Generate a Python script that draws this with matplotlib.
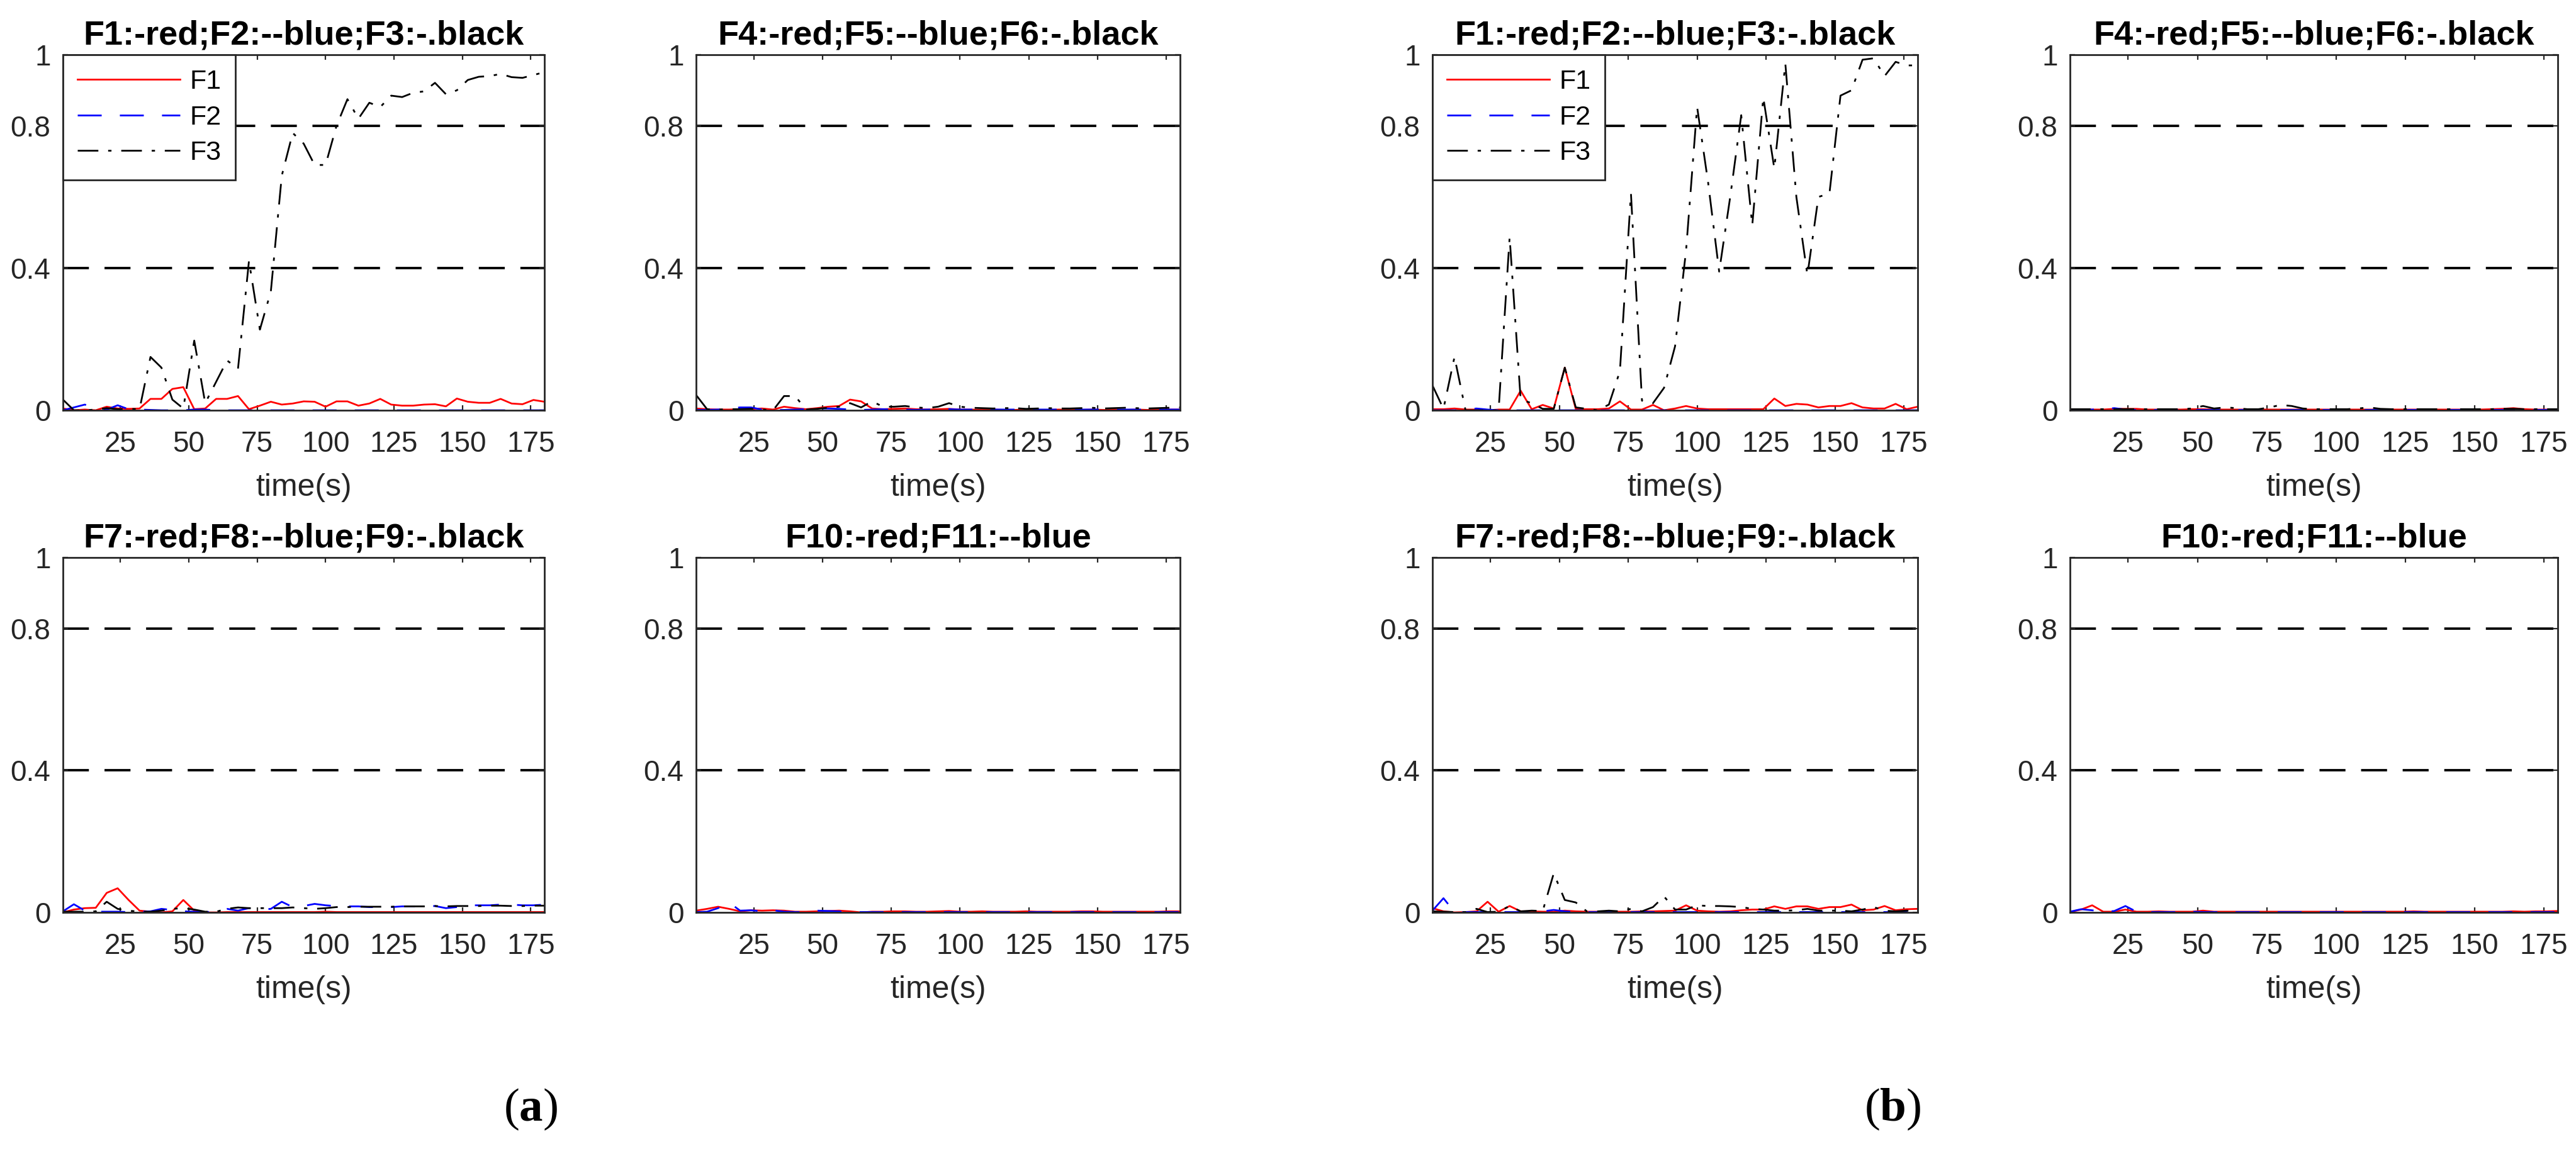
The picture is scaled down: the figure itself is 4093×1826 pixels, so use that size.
import matplotlib
matplotlib.use("Agg")
import matplotlib.pyplot as plt
import numpy as np

plt.rcParams['font.family'] = ['Liberation Sans', 'DejaVu Sans']
plt.rcParams['mathtext.fontset'] = 'custom'
plt.rcParams['mathtext.rm'] = 'Liberation Serif'
plt.rcParams['mathtext.bf'] = 'Liberation Serif:bold'

# sampling instants (s)
t = np.arange(4, 181, 4)

# ---- group (a) ----
a_F1 = [0.005, 0, 0.002, 0, 0.01, 0.005, 0.004, 0.005, 0.032, 0.032,
        0.06, 0.065, 0.003, 0.005, 0.032, 0.032, 0.04, 0.003, 0.013, 0.024,
        0.016, 0.019, 0.025, 0.024, 0.01, 0.025, 0.025, 0.013, 0.019, 0.032,
        0.016, 0.013, 0.013, 0.016, 0.017, 0.011, 0.033, 0.024, 0.021, 0.021,
        0.032, 0.019, 0.017, 0.029, 0.024]
a_F2 = [0, 0.008, 0.016, 0.004, 0.002, 0.014, 0.003, 0.002, 0.001, 0,
        0, 0, 0.002, 0.002, 0, 0, 0, 0, 0, 0,
        0, 0, 0, 0, 0, 0, 0, 0, 0, 0,
        0, 0, 0, 0, 0, 0, 0, 0, 0, 0,
        0, 0, 0, 0, 0]
a_F3 = [0.03, 0.0, 0.0, 0.002, 0.006, 0.003, 0.004, 0.003, 0.15, 0.12,
        0.03, 0.005, 0.196, 0.02, 0.08, 0.14, 0.117, 0.42, 0.227, 0.334,
        0.66, 0.78, 0.75, 0.69, 0.69, 0.8, 0.875, 0.82, 0.865, 0.853,
        0.885, 0.881, 0.893, 0.897, 0.921, 0.889, 0.9, 0.929, 0.938, 0.94,
        0.946, 0.937, 0.935, 0.943, 0.951]
a_F4 = [0.005, 0.003, 0.002, 0.002, 0.003, 0.004, 0.005, 0.002, 0.01, 0.006,
        0.003, 0.006, 0.01, 0.012, 0.03, 0.025, 0.005, 0.003, 0.004, 0.005,
        0.003, 0.002, 0.003, 0.004, 0.002, 0.002, 0.001, 0.002, 0.001, 0.001,
        0.002, 0.001, 0.001, 0.002, 0.001, 0.001, 0.002, 0.001, 0.001, 0.001,
        0.002, 0.001, 0.001, 0.002, 0.002]
a_F5 = [0.001, 0.001, 0.002, 0.005, 0.008, 0.008, 0.002, 0.001, 0.001, 0.002,
        0.003, 0.005, 0.005, 0.004, 0.002, 0.001, 0.002, 0.003, 0.002, 0.002,
        0.001, 0.002, 0.002, 0.003, 0.002, 0.002, 0.002, 0.002, 0.002, 0.002,
        0.002, 0.002, 0.002, 0.002, 0.002, 0.002, 0.002, 0.002, 0.002, 0.002,
        0.002, 0.002, 0.002, 0.002, 0.002]
a_F6 = [0.043, 0.003, 0.002, 0.003, 0.003, 0.004, 0.002, 0.0, 0.04, 0.04,
        0.002, 0.004, 0.007, 0.01, 0.02, 0.008, 0.025, 0.01, 0.01, 0.012,
        0.008, 0.006, 0.01, 0.02, 0.01, 0.007, 0.006, 0.005, 0.006, 0.006,
        0.004, 0.005, 0.006, 0.005, 0.005, 0.006, 0.007, 0.005, 0.006, 0.007,
        0.006, 0.005, 0.006, 0.007, 0.008]
a_F7 = [0, 0.008, 0.012, 0.013, 0.055, 0.068, 0.035, 0.005, 0.002, 0.0,
        0.003, 0.035, 0.005, 0.0, 0.0, 0.001, 0.001, 0.001, 0.001, 0.001,
        0.001, 0.001, 0.001, 0.001, 0.002, 0.001, 0.001, 0.001, 0.001, 0.001,
        0.001, 0.001, 0.001, 0.001, 0.001, 0.001, 0.001, 0.001, 0.001, 0.001,
        0.001, 0.001, 0.001, 0.001, 0.001]
a_F8 = [0.003, 0.023, 0.005, 0.002, 0.002, 0.002, 0.001, 0.002, 0.003, 0.01,
        0.007, 0.003, 0.002, 0.0, 0.005, 0.01, 0.005, 0.012, 0.008, 0.01,
        0.03, 0.015, 0.018, 0.024, 0.02, 0.018, 0.017, 0.017, 0.015, 0.015,
        0.015, 0.017, 0.017, 0.017, 0.018, 0.012, 0.015, 0.02, 0.02, 0.02,
        0.022, 0.022, 0.02, 0.02, 0.022]
a_F9 = [0.002, 0.002, 0.002, 0.003, 0.03, 0.01, 0.005, 0.002, 0.002, 0.005,
        0.01, 0.012, 0.008, 0.002, 0.002, 0.01, 0.014, 0.012, 0.012, 0.012,
        0.012, 0.014, 0.012, 0.01, 0.012, 0.015, 0.015, 0.016, 0.016, 0.016,
        0.016, 0.017, 0.017, 0.017, 0.018, 0.017, 0.018, 0.018, 0.018, 0.019,
        0.019, 0.018, 0.018, 0.019, 0.019]
a_F10 = [0.005, 0.01, 0.016, 0.01, 0.003, 0.006, 0.005, 0.006, 0.005, 0.002,
         0.002, 0.003, 0.004, 0.005, 0.003, 0.0, 0.002, 0.002, 0.003, 0.003,
         0.002, 0.002, 0.003, 0.004, 0.002, 0.002, 0.003, 0.002, 0.002, 0.002,
         0.003, 0.002, 0.002, 0.002, 0.002, 0.003, 0.003, 0.002, 0.002, 0.002,
         0.002, 0.002, 0.002, 0.003, 0.003]
a_F11 = [0.001, 0.002, 0.012, 0.028, 0.005, 0.006, 0.003, 0.006, 0.002, 0.001,
         0.001, 0.005, 0.004, 0.003, 0.001, 0.001, 0.001, 0.001, 0.001, 0.001,
         0.001, 0.001, 0.001, 0.001, 0.001, 0.001, 0.001, 0.001, 0.001, 0.001,
         0.001, 0.001, 0.001, 0.001, 0.001, 0.001, 0.001, 0.001, 0.001, 0.001,
         0.001, 0.001, 0.001, 0.001, 0.001]

# ---- group (b) ----
b_F1 = [0.003, 0.003, 0.005, 0.002, 0.002, 0, 0.002, 0.002, 0.055, 0.003,
        0.015, 0.005, 0.12, 0.003, 0.003, 0.003, 0.005, 0.025, 0.002, 0.002,
        0.015, 0.0, 0.005, 0.012, 0.005, 0.003, 0.003, 0.003, 0.003, 0.003,
        0.003, 0.033, 0.012, 0.018, 0.016, 0.008, 0.012, 0.012, 0.02, 0.008,
        0.005, 0.005, 0.018, 0.003, 0.01]
b_F2 = [0, 0, 0, 0.002, 0.005, 0.002, 0, 0, 0, 0,
        0, 0, 0, 0, 0, 0, 0, 0, 0, 0,
        0, 0, 0, 0, 0, 0, 0, 0, 0, 0,
        0, 0, 0, 0, 0, 0, 0, 0, 0, 0,
        0, 0, 0, 0, 0]
b_F3 = [0.07, 0.004, 0.15, 0.0, 0.0, 0.0, 0.0, 0.487, 0.03, 0.02,
        0.004, 0.004, 0.12, 0.008, 0.004, 0.0, 0.016, 0.11, 0.61, 0.027,
        0.02, 0.063, 0.18, 0.45, 0.853, 0.64, 0.39, 0.6, 0.83, 0.52,
        0.88, 0.68, 0.975, 0.6, 0.38, 0.6, 0.61, 0.885, 0.9, 0.986,
        0.99, 0.94, 0.98, 0.97, 0.97]
b_F4 = [0.002, 0.002, 0.002, 0.002, 0.004, 0.004, 0.004, 0.002, 0.002, 0.002,
        0.002, 0.003, 0.003, 0.002, 0.002, 0.002, 0.002, 0.002, 0.002, 0.002,
        0.002, 0.002, 0.002, 0.002, 0.002, 0.002, 0.002, 0.002, 0.002, 0.002,
        0.002, 0.002, 0.002, 0.002, 0.002, 0.002, 0.002, 0.002, 0.003, 0.004,
        0.006, 0.003, 0.002, 0.002, 0.002]
b_F5 = [0.001, 0.001, 0.002, 0.003, 0.006, 0.002, 0.001, 0.001, 0.001, 0.001,
        0.001, 0.001, 0.001, 0.001, 0.001, 0.001, 0.001, 0.001, 0.001, 0.001,
        0.001, 0.001, 0.001, 0.001, 0.001, 0.001, 0.001, 0.001, 0.001, 0.001,
        0.001, 0.001, 0.001, 0.001, 0.001, 0.001, 0.001, 0.001, 0.001, 0.001,
        0.001, 0.001, 0.001, 0.001, 0.001]
b_F6 = [0.003, 0.003, 0.003, 0.003, 0.003, 0.003, 0.003, 0.003, 0.003, 0.003,
        0.003, 0.005, 0.012, 0.005, 0.008, 0.006, 0.003, 0.003, 0.008, 0.015,
        0.012, 0.005, 0.003, 0.003, 0.003, 0.003, 0.005, 0.008, 0.004, 0.003,
        0.003, 0.003, 0.003, 0.003, 0.003, 0.003, 0.003, 0.003, 0.003, 0.004,
        0.004, 0.003, 0.003, 0.003, 0.003]
b_F7 = [0.012, 0.003, 0.0, 0.001, 0.003, 0.03, 0.002, 0.018, 0.003, 0.003,
        0.002, 0.002, 0.005, 0.003, 0.002, 0.002, 0.002, 0.002, 0.002, 0.003,
        0.003, 0.004, 0.005, 0.02, 0.005, 0.003, 0.002, 0.003, 0.006, 0.008,
        0.008, 0.017, 0.01, 0.017, 0.017, 0.01, 0.015, 0.015, 0.022, 0.006,
        0.008, 0.018, 0.006, 0.009, 0.01]
b_F8 = [0.005, 0.04, 0.001, 0.001, 0.001, 0.001, 0.001, 0.001, 0.001, 0.002,
        0.003, 0.007, 0.003, 0.001, 0.001, 0.001, 0.001, 0.001, 0.001, 0.001,
        0.001, 0.001, 0.001, 0.001, 0.001, 0.001, 0.001, 0.001, 0.001, 0.001,
        0.001, 0.001, 0.001, 0.001, 0.001, 0.001, 0.001, 0.001, 0.001, 0.001,
        0.001, 0.001, 0.001, 0.001, 0.001]
b_F9 = [0.003, 0.002, 0.001, 0.001, 0.01, 0.001, 0.002, 0.018, 0.003, 0.005,
        0.004, 0.11, 0.035, 0.028, 0.003, 0.003, 0.005, 0.003, 0.01, 0.003,
        0.015, 0.045, 0.008, 0.008, 0.02, 0.018, 0.018, 0.017, 0.015, 0.01,
        0.008, 0.005, 0.005, 0.006, 0.01, 0.005, 0.005, 0.005, 0.003, 0.008,
        0.015, 0.005, 0.003, 0.005, 0.003]
b_F10 = [0.001, 0.008, 0.02, 0.002, 0.002, 0.008, 0.002, 0.002, 0.003, 0.002,
         0.002, 0.002, 0.005, 0.002, 0.002, 0.002, 0.002, 0.002, 0.002, 0.002,
         0.002, 0.002, 0.002, 0.002, 0.002, 0.002, 0.002, 0.002, 0.002, 0.002,
         0.002, 0.003, 0.002, 0.002, 0.002, 0.002, 0.002, 0.002, 0.002, 0.002,
         0.003, 0.002, 0.003, 0.003, 0.004]
b_F11 = [0.002, 0.009, 0.006, 0.001, 0.004, 0.018, 0.002, 0.001, 0.001, 0.001,
         0.001, 0.002, 0.001, 0.001, 0.001, 0.001, 0.001, 0.001, 0.001, 0.001,
         0.001, 0.001, 0.001, 0.001, 0.001, 0.001, 0.001, 0.001, 0.001, 0.001,
         0.001, 0.001, 0.001, 0.001, 0.001, 0.001, 0.001, 0.001, 0.001, 0.001,
         0.001, 0.001, 0.001, 0.001, 0.001]

titles = ["F1:-red;F2:--blue;F3:-.black", "F4:-red;F5:--blue;F6:-.black",
          "F7:-red;F8:--blue;F9:-.black", "F10:-red;F11:--blue"]
xticks = [25, 50, 75, 100, 125, 150, 175]
yticks = [0, 0.4, 0.8, 1]
ytick_labels = ["0", "0.4", "0.8", "1"]
thresholds = [0.4, 0.8]

# line styles (red solid, blue dashed, black dash-dot)
STYLES = [dict(color="#FF0000", linestyle="-"),
          dict(color="#0000FF", linestyle=(0, (13.7, 10.4))),
          dict(color="#000000", linestyle=(0, (11.8, 5.6, 1.9, 5.6)))]
AX_COLOR = "#262626"

W, H, DPI = 4093, 1826, 100
fig = plt.figure(figsize=(W / DPI, H / DPI), dpi=DPI)

col_px = [(100, 865), (1106, 1875), (2276, 3047), (3289, 4064)]
row_px = [(87, 652), (886, 1450)]


def make_axes(col, row):
    l, r = col_px[col]
    tp, bt = row_px[row]
    return fig.add_axes([l / W, 1 - bt / H, (r - l) / W, (bt - tp) / H])


panels = [
    (0, 0, titles[0], [a_F1, a_F2, a_F3], True),
    (1, 0, titles[1], [a_F4, a_F5, a_F6], False),
    (0, 1, titles[2], [a_F7, a_F8, a_F9], False),
    (1, 1, titles[3], [a_F10, a_F11], False),
    (2, 0, titles[0], [b_F1, b_F2, b_F3], True),
    (3, 0, titles[1], [b_F4, b_F5, b_F6], False),
    (2, 1, titles[2], [b_F7, b_F8, b_F9], False),
    (3, 1, titles[3], [b_F10, b_F11], False),
]

for col, row, title, series, show_legend in panels:
    ax = make_axes(col, row)
    for thr in thresholds:
        ax.axhline(thr, color="black", lw=2.75, linestyle=(0, (10.8, 6.5)), zorder=1.5)
    for i, y in enumerate(series):
        ax.plot(t, y, lw=2.0, label="F%d" % (i + 1), zorder=2, **STYLES[i])
    ax.set_xlim(4, 180)
    ax.set_ylim(0, 1)
    ax.set_xticks(xticks)
    ax.set_yticks(yticks)
    ax.set_yticklabels(ytick_labels)
    ax.tick_params(direction="in", length=6, width=1.6, colors=AX_COLOR,
                   labelsize=33, top=True, right=True)
    ax.tick_params(axis="x", pad=23)
    ax.tick_params(axis="y", pad=14)
    for sp in ax.spines.values():
        sp.set_color(AX_COLOR)
        sp.set_linewidth(2.0)
    ax.set_xlabel("time(s)", fontsize=36, color=AX_COLOR, labelpad=17)
    ax.set_title(title, fontsize=39, fontweight="bold", color="black", pad=12)
    if show_legend:
        leg = ax.legend(loc="upper left", fontsize=31, handlelength=3.8,
                        handletextpad=0.35, borderpad=0.53, labelspacing=0.39,
                        borderaxespad=0, fancybox=False, framealpha=1)
        leg.get_frame().set_edgecolor(AX_COLOR)
        leg.get_frame().set_linewidth(2.0)

fig.text(843 / W, 1 - 1763 / H, r"$\mathrm{(}\mathbf{a}\mathrm{)}$",
         fontsize=54, ha="center", va="center")
fig.text(3007 / W, 1 - 1763 / H, r"$\mathrm{(}\mathbf{b}\mathrm{)}$",
         fontsize=54, ha="center", va="center")

fig.savefig("out.png", dpi=DPI, facecolor="white")
